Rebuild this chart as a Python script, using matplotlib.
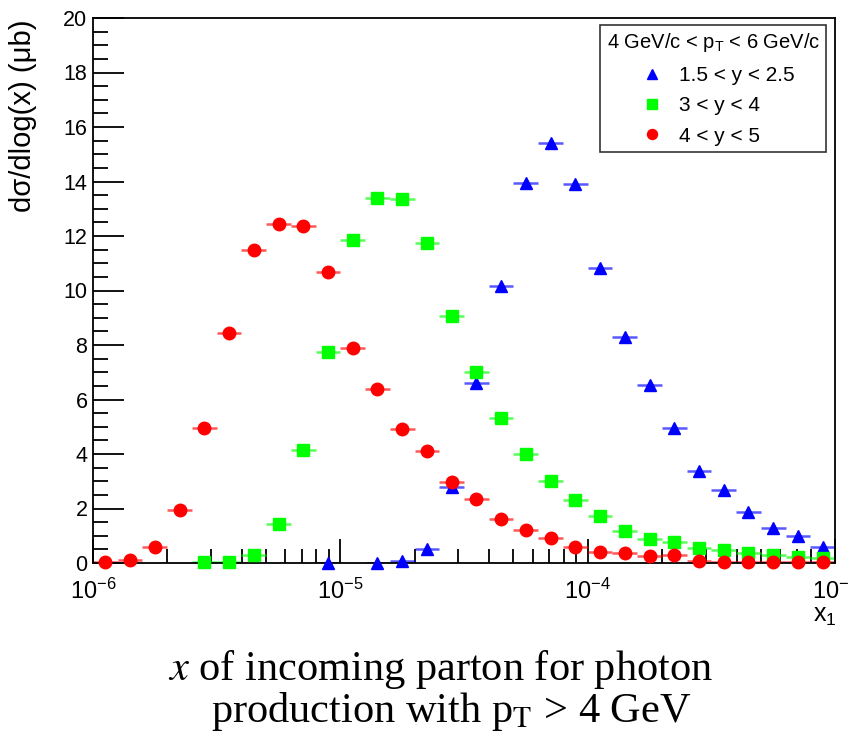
import numpy as np
import matplotlib.pyplot as plt

plt.rcParams['font.family'] = ['Liberation Sans', 'DejaVu Sans']
plt.rcParams['mathtext.fontset'] = 'custom'
plt.rcParams['mathtext.rm'] = 'Liberation Sans'
plt.rcParams['mathtext.it'] = 'Liberation Sans:italic'

# 30 log bins from 1e-6 to 1e-3 (10 per decade); nan = empty bin
log_edges = np.linspace(-6, -3, 31)

y_forward = [np.nan] * 9 + [0.01, np.nan, 0.0, 0.08, 0.52, 2.8, 6.6, 10.17, 13.95, 15.4, 13.9,
                            10.82, 8.3, 6.55, 4.97, 3.38, 2.68, 1.88, 1.27, 0.98, 0.6]
y_mid = [np.nan] * 4 + [0.02, 0.05, 0.3, 1.43, 4.15, 7.75, 11.85, 13.4, 13.36, 11.75, 9.07, 7.0,
                        5.32, 4.0, 3.02, 2.31, 1.73, 1.18, 0.88, 0.78, 0.55, 0.47, 0.38, 0.3,
                        0.22, 0.2]
y_far = [0.02, 0.12, 0.6, 1.95, 4.95, 8.45, 11.5, 12.45, 12.35, 10.68, 7.88, 6.4, 4.9, 4.12,
         2.97, 2.35, 1.63, 1.2, 0.93, 0.6, 0.42, 0.37, 0.27, 0.28, 0.06, 0.03, 0.02, 0.02,
         0.02, 0.02]

series = [
    (y_forward, '^', (0, 0, 1), '1.5 < y < 2.5'),
    (y_mid, 's', (0, 1, 0), '3 < y < 4'),
    (y_far, 'o', (1, 0, 0), '4 < y < 5'),
]

lo = 10 ** log_edges[:-1]
hi = 10 ** log_edges[1:]
xc = 10 ** (0.5 * (log_edges[:-1] + log_edges[1:]))

fig = plt.figure(figsize=(8.48, 7.31), dpi=100)
ax = fig.add_axes([93 / 848, 1 - 563 / 731, 742 / 848, 545 / 731])

handles = []
for ys, m, c, lab in series:
    ys = np.array(ys)
    ok = ~np.isnan(ys)
    ax.errorbar(xc[ok], ys[ok], xerr=[xc[ok] - lo[ok], hi[ok] - xc[ok]], fmt='none',
                ecolor=c, alpha=0.65, elinewidth=1.8, capsize=0, zorder=2)
    h, = ax.plot(xc[ok], ys[ok], ls='none', marker=m, color=c, ms=9, mec=c, zorder=3,
                 label=lab, clip_on=False)
    handles.append(h)

ax.set_xscale('log')
ax.set_xlim(1e-6, 1e-3)
ax.set_ylim(0, 20)
ax.set_yticks(np.arange(0, 21, 2))
ax.set_yticks(np.arange(0, 20.01, 0.5), minor=True)
ax.set_xticks([1e-6, 1e-5, 1e-4, 1e-3])
ax.set_xticklabels(['$10^{-6}$', '$10^{-5}$', '$10^{-4}$', '$10^{-3}$'])
ax.tick_params(which='both', direction='in', width=1.3)
ax.tick_params(which='major', axis='y', length=22, labelsize=15.5, pad=4)
ax.tick_params(which='minor', axis='y', length=11)
ax.tick_params(which='major', axis='x', length=17, labelsize=17, pad=11)
ax.tick_params(which='minor', axis='x', length=10, labelbottom=False)
for s in ax.spines.values():
    s.set_linewidth(1.3)

fig.text(23 / 848, 1 - 20 / 731, 'dσ/dlog(x) (μb)', rotation=90, ha='center', va='top',
         fontsize=21)
fig.text(837 / 848, 1 - 628 / 731, 'x$_1$', ha='right', va='bottom', fontsize=18)

leg = ax.legend(handles=handles, title='4 GeV/c < p$_\\mathrm{T}$ < 6 GeV/c', loc='upper right',
                bbox_to_anchor=(0.988, 0.987), borderaxespad=0, fontsize=15,
                title_fontsize=14.5, frameon=True, fancybox=False, edgecolor='black',
                borderpad=0.3, handlelength=2.0, handletextpad=0.3, labelspacing=0.55,
                markerscale=0.8)
leg.get_frame().set_linewidth(1.2)

fig.text(441 / 848, 1 - 680 / 731, '$x$ of incoming parton for photon', ha='center',
         va='baseline', fontsize=30.5, family='Liberation Serif', math_fontfamily='stix')
fig.text(451 / 848, 1 - 722 / 731, 'production with p$_\\mathrm{T}$ > 4 GeV', ha='center',
         va='baseline', fontsize=30.5, family='Liberation Serif', math_fontfamily='stix')

fig.savefig('out.png', dpi=100)
